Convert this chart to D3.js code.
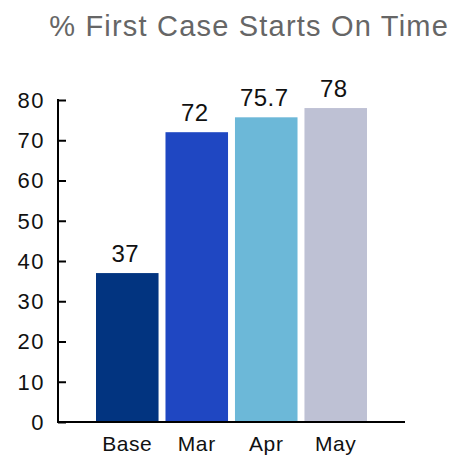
<!DOCTYPE html>
<html>
<head>
<meta charset="utf-8">
<script src="https://cdn.jsdelivr.net/npm/d3@7"></script>
<style>
  body { margin: 0; background: #fff; }
  text { font-family: "Liberation Sans", Arial, sans-serif; }
</style>
</head>
<body>
<div id="chart"></div>
<script>
const categories = ["Base", "Mar", "Apr", "May"];
const values = [37, 72, 75.7, 78];
const valueLabels = ["37", "72", "75.7", "78"];
const colors = ["#023480", "#1f47c2", "#6cb8d8", "#bec1d4"];
const yTicks = [0, 10, 20, 30, 40, 50, 60, 70, 80];

const width = 452;
const height = 457;

const svg = d3.select("#chart").append("svg")
    .attr("width", width)
    .attr("height", height);

const x = d3.scaleBand()
    .domain(categories)
    .range([96, 367])
    .paddingInner(0.1)
    .paddingOuter(0);

const y = d3.scaleLinear()
    .domain([0, 80])
    .range([422, 100]);

svg.append("text")
    .attr("x", 449)
    .attr("y", 36)
    .attr("text-anchor", "end")
    .attr("font-size", 29)
    .attr("letter-spacing", 1.2)
    .attr("fill", "#666")
    .text("% First Case Starts On Time");

// bars
svg.append("g")
  .selectAll("rect")
  .data(categories)
  .join("rect")
    .attr("x", d => x(d))
    .attr("y", (d, i) => y(values[i]))
    .attr("width", x.bandwidth())
    .attr("height", (d, i) => y(0) - y(values[i]))
    .attr("fill", (d, i) => colors[i]);

// value labels
svg.append("g")
    .attr("font-size", 24)
    .attr("letter-spacing", 0.5)
    .attr("text-anchor", "middle")
    .attr("fill", "#111")
  .selectAll("text")
  .data(categories)
  .join("text")
    .attr("x", d => x(d) + x.bandwidth() / 2 - 2)
    .attr("y", (d, i) => y(values[i]) - 11)
    .text((d, i) => valueLabels[i]);

// y axis, ticks drawn inward
const yAxis = svg.append("g")
    .attr("transform", "translate(58,0)")
    .call(d3.axisRight(y).tickValues(yTicks).tickSize(8).tickFormat(""));
yAxis.select(".domain").remove();
yAxis.selectAll(".tick line").attr("stroke", "#000").attr("stroke-width", 2);

svg.append("line")
    .attr("x1", 58).attr("x2", 58)
    .attr("y1", y(80) - 1).attr("y2", y(0) + 1)
    .attr("stroke", "#000").attr("stroke-width", 2);

svg.append("g")
    .attr("font-size", 22)
    .attr("letter-spacing", 1.5)
    .attr("text-anchor", "end")
    .attr("fill", "#111")
  .selectAll("text")
  .data(yTicks)
  .join("text")
    .attr("x", 45)
    .attr("y", d => y(d))
    .attr("dy", "0.36em")
    .text(d => d);

// x axis line
svg.append("line")
    .attr("x1", 57).attr("x2", 405)
    .attr("y1", y(0)).attr("y2", y(0))
    .attr("stroke", "#000").attr("stroke-width", 2);

svg.append("g")
    .attr("font-size", 21)
    .attr("letter-spacing", 0.6)
    .attr("text-anchor", "middle")
    .attr("fill", "#111")
  .selectAll("text")
  .data(categories)
  .join("text")
    .attr("x", d => x(d) + x.bandwidth() / 2)
    .attr("y", 451)
    .text(d => d);
</script>
</body>
</html>
